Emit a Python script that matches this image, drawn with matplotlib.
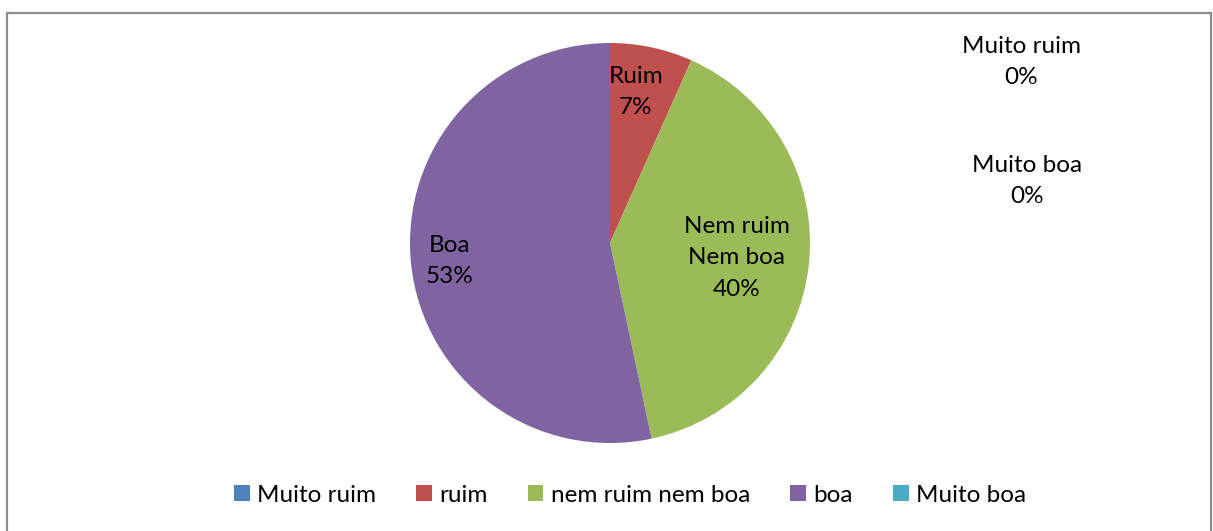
import matplotlib.pyplot as plt
from matplotlib.patches import Rectangle

plt.rcParams['font.family'] = ['Lato', 'DejaVu Sans']

categories = ['Muito ruim', 'ruim', 'nem ruim nem boa', 'boa', 'Muito boa']
counts = [0, 1, 6, 8, 0]
slice_labels = ['Muito ruim\n0%', 'Ruim\n7%', 'Nem ruim\nNem boa\n40%', 'Boa\n53%', 'Muito boa\n0%']
colors = ['#4F81BD', '#C0504D', '#9BBB59', '#8064A2', '#4BACC6']

# label centres in pixels (x, y from top)
label_pos = [(1021, 62), (636, 92), (737, 258), (450, 261), (1027, 181)]

W, H = 1213, 531
fig = plt.figure(figsize=(W / 100, H / 100), dpi=100)

# outer chart border
fig.patches.append(Rectangle((7 / W, -0.1), (1211 - 7) / W, 1.1 - 13 / H,
                             transform=fig.transFigure, fill=False,
                             edgecolor='#8c8c8c', linewidth=1.6))

cx, cy, r = 610, 243, 200
ax = fig.add_axes([(cx - r) / W, (H - cy - r) / H, 2 * r / W, 2 * r / H])
wedges, _ = ax.pie(counts, colors=colors, startangle=90, counterclock=False,
                   radius=1, wedgeprops=dict(linewidth=0))
ax.set_xlim(-1, 1)
ax.set_ylim(-1, 1)
ax.set_aspect('auto')
ax.axis('off')

for txt, (x, y) in zip(slice_labels, label_pos):
    fig.text(x / W, 1 - y / H, txt, ha='center', va='center',
             fontsize=17.5, color='black', linespacing=1.6)

leg = fig.legend(wedges, categories, loc='center', ncol=5,
                 bbox_to_anchor=(630 / W, 1 - 495 / H), frameon=False,
                 fontsize=17.5, handlelength=0.65, handleheight=0.65,
                 handletextpad=0.3, columnspacing=1.65)

fig.savefig('out.png', dpi=100)
plt.close()
